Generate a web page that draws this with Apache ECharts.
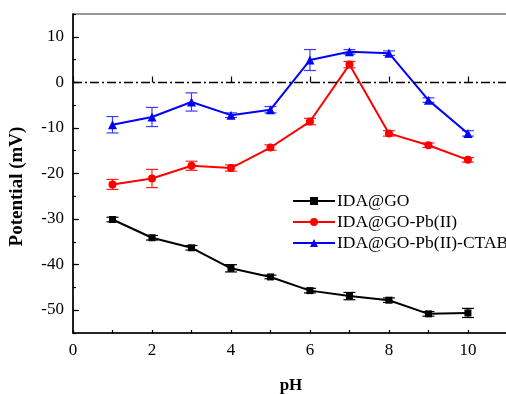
<!DOCTYPE html>
<html><head><meta charset="utf-8">
<script src="https://cdn.jsdelivr.net/npm/echarts@6/dist/echarts.min.js"></script>
<style>html,body{margin:0;padding:0;background:#fff}#c{width:506px;height:394px}</style>
</head><body><div id="c"></div>
<script>
var pH = [1, 2, 3, 4, 5, 6, 7, 8, 9, 10];
var idaGO = [-30.1, -34.1, -36.3, -40.8, -42.7, -45.7, -46.9, -47.8, -50.8, -50.6];
var idaGOErr = [0.5, 0.5, 0.5, 0.8, 0.4, 0.5, 0.8, 0.5, 0.5, 1.0];
var idaGOPb = [-22.4, -21.1, -18.3, -18.8, -14.3, -8.6, 3.9, -11.2, -13.8, -17.0];
var idaGOPbErr = [1.1, 2.0, 1.0, 0.7, 0.6, 0.7, 0.7, 0.6, 0.5, 0.5];
var idaGOPbCTAB = [-9.3, -7.6, -4.3, -7.2, -6.0, 4.9, 6.7, 6.4, -3.9, -11.2];
var idaGOPbCTABErr = [1.8, 2.1, 2.0, 0.5, 0.7, 2.3, 0.5, 0.5, 0.5, 0.6];
var names = ['IDA@GO', 'IDA@GO-Pb(II)', 'IDA@GO-Pb(II)-CTAB'];
var xTickLabels = ['0', '2', '4', '6', '8', '10'];
var yTickLabels = ['-50', '-40', '-30', '-20', '-10', '0', '10'];

var FONT = '"Liberation Serif","Times New Roman",serif';
var colors = ['#000000', '#ff0000', '#0000ff'];
var errColors = ['#000000', '#ff2020', '#3b3bff'];

function pairs(vals) { return pH.map(function (x, i) { return [x, vals[i]]; }); }
function errData(vals, errs) { return pH.map(function (x, i) { return [x, vals[i] - errs[i], vals[i] + errs[i]]; }); }

function errSeries(vals, errs, color) {
  return {
    type: 'custom', xAxisIndex: 0, yAxisIndex: 0, z: 3, silent: true,
    data: errData(vals, errs),
    renderItem: function (params, api) {
      var lo = api.coord([api.value(0), api.value(1)]);
      var hi = api.coord([api.value(0), api.value(2)]);
      var w = 6;
      var st = { stroke: color, lineWidth: 1.2 };
      return { type: 'group', children: [
        { type: 'line', shape: { x1: lo[0], y1: lo[1], x2: hi[0], y2: hi[1] }, style: st },
        { type: 'line', shape: { x1: lo[0] - w, y1: lo[1], x2: lo[0] + w, y2: lo[1] }, style: st },
        { type: 'line', shape: { x1: hi[0] - w, y1: hi[1], x2: hi[0] + w, y2: hi[1] }, style: st }
      ] };
    }
  };
}

function lineSeries(name, vals, color, symbol, size, extra) {
  var s = {
    name: name, type: 'line', xAxisIndex: 0, yAxisIndex: 0, z: 4,
    data: pairs(vals), symbol: symbol, symbolSize: size,
    lineStyle: { color: color, width: 2 }, itemStyle: { color: color },
    animation: false
  };
  if (extra) for (var k in extra) s[k] = extra[k];
  return s;
}

var chart = echarts.init(document.getElementById('c'));
chart.setOption({
  animation: false,
  grid: [
    { left: 73, right: -3, top: 14, bottom: 61, show: true, borderColor: '#333', borderWidth: 1.2,
      backgroundColor: 'transparent', containLabel: false, outerBoundsMode: 'none' },
    { left: 73, right: 38, top: 37, bottom: 84, containLabel: false, outerBoundsMode: 'none' }
  ],
  xAxis: [
    { gridIndex: 0, type: 'value', min: 0, max: 11.04, interval: 1,
      axisLine: { show: true, onZero: false, lineStyle: { color: '#000', width: 1.5 } },
      axisTick: { show: true, inside: true, length: 3, lineStyle: { color: '#000', width: 1.2 } },
      axisLabel: { show: false }, splitLine: { show: false },
      name: 'pH', nameLocation: 'middle', nameGap: 44,
      nameTextStyle: { fontFamily: FONT, fontWeight: 'bold', fontSize: 17, color: '#000' } },
    { gridIndex: 1, type: 'value', min: 0, max: 10, interval: 2, offset: 23,
      axisLine: { show: false },
      axisTick: { show: true, inside: true, length: 6, lineStyle: { color: '#000', width: 1.2 } },
      axisLabel: { show: true, margin: 9, fontFamily: FONT, fontSize: 17, color: '#000',
        formatter: function (v) { var i = Math.round(v / 2); return xTickLabels[i] !== undefined ? xTickLabels[i] : ''; } },
      splitLine: { show: false } }
  ],
  yAxis: [
    { gridIndex: 0, type: 'value', min: -55, max: 15, interval: 5,
      axisLine: { show: true, onZero: false, lineStyle: { color: '#000', width: 1.5 } },
      axisTick: { show: true, inside: true, length: 3, lineStyle: { color: '#000', width: 1.2 } },
      axisLabel: { show: false }, splitLine: { show: false },
      name: 'Potential (mV)', nameLocation: 'middle', nameGap: 46, nameRotate: 90,
      nameTextStyle: { fontFamily: FONT, fontWeight: 'bold', fontSize: 19, color: '#000', padding: [0, 26, 0, 0] } },
    { gridIndex: 1, type: 'value', min: -50, max: 10, interval: 10,
      axisLine: { show: false },
      axisTick: { show: true, inside: true, length: 6, lineStyle: { color: '#000', width: 1.2 } },
      axisLabel: { show: true, margin: 9, fontFamily: FONT, fontSize: 17, color: '#000',
        formatter: function (v) { var i = Math.round((v + 50) / 10); return yTickLabels[i] !== undefined ? yTickLabels[i] : ''; } },
      splitLine: { show: false } }
  ],
  legend: {
    orient: 'vertical', left: 287, top: 187, itemWidth: 42, itemHeight: 10, itemGap: 3,
    data: names,
    textStyle: { fontFamily: FONT, fontSize: 17.5, lineHeight: 17, color: '#000', padding: [0, 0, 0, -3] }
  },
  series: [
    errSeries(idaGO, idaGOErr, errColors[0]),
    errSeries(idaGOPb, idaGOPbErr, errColors[1]),
    errSeries(idaGOPbCTAB, idaGOPbCTABErr, errColors[2]),
    lineSeries(names[0], idaGO, colors[0], 'rect', 7, {
      markLine: { silent: true, symbol: 'none', label: { show: false },
        lineStyle: { color: '#000', width: 1.3, type: [9, 3, 2, 3] },
        data: [{ yAxis: 0 }] }
    }),
    lineSeries(names[1], idaGOPb, colors[1], 'circle', 8),
    lineSeries(names[2], idaGOPbCTAB, colors[2], 'triangle', 9)
  ]
});
</script>
</body></html>
